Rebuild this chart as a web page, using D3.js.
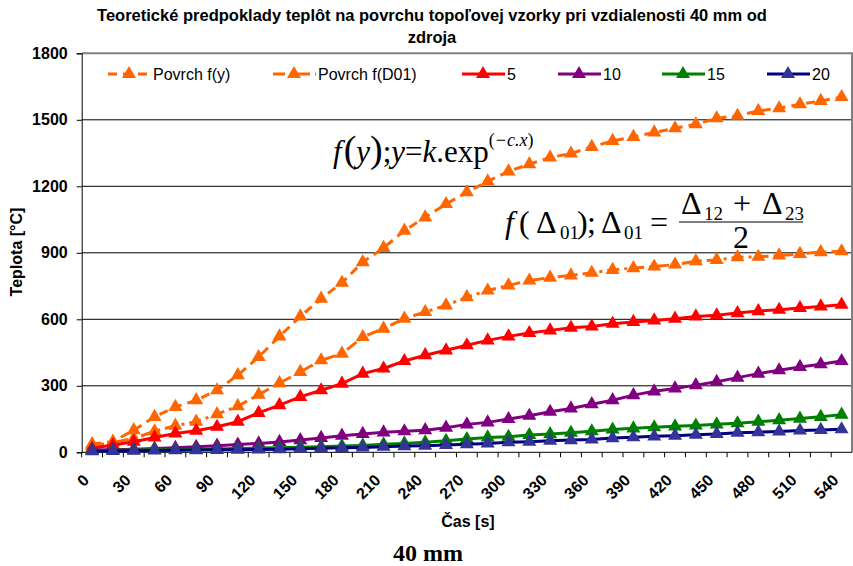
<!DOCTYPE html>
<html>
<head>
<meta charset="utf-8">
<script src="https://cdn.jsdelivr.net/npm/d3@7"></script>
<style>
  body { margin: 0; background: #fff; }
  text { font-family: "Liberation Sans", Arial, sans-serif; }
  .math { font-family: "Liberation Serif", "Times New Roman", serif; }
</style>
</head>
<body>
<svg id="chart"></svg>
<script>
// time in seconds, one category every 15 s
const times = d3.range(0, 541, 15);
const tickLabels = d3.range(0, 541, 30);
const yTicks = [0, 300, 600, 900, 1200, 1500, 1800];

const povrchFy = [37, 48, 100, 160, 205, 235, 280, 348, 430, 523, 613, 693, 765, 858, 922, 1000, 1060, 1120, 1173,
  1222, 1267, 1300, 1330, 1348, 1378, 1405, 1423, 1443, 1462, 1480, 1507, 1518, 1540, 1552, 1570, 1585, 1603];
const povrchFD01 = [30, 45, 62, 95, 120, 138, 172, 208, 260, 312, 363, 415, 445, 520, 558, 603, 633, 663, 700,
  730, 753, 775, 788, 798, 810, 823, 831, 838, 847, 862, 868, 880, 882, 888, 895, 903, 907];
const s5 = [18, 33, 48, 67, 85, 97, 115, 138, 178, 213, 250, 280, 310, 355, 378, 412, 438, 460, 483,
  505, 523, 538, 550, 562, 568, 580, 588, 595, 603, 613, 618, 628, 637, 643, 651, 658, 666];
const s10 = [10, 12, 14, 17, 20, 25, 30, 35, 40, 47, 55, 65, 75, 83, 90, 95, 100, 111, 126,
  135, 150, 165, 183, 198, 217, 235, 258, 275, 288, 303, 318, 337, 355, 370, 385, 397, 412];
const s15 = [8, 9, 10, 11, 12, 13, 15, 17, 19, 21, 23, 25, 28, 31, 36, 40, 45, 52, 60,
  67, 70, 78, 82, 88, 95, 103, 108, 113, 117, 121, 126, 131, 138, 145, 152, 160, 170];
const s20 = [5, 6, 7, 8, 9, 10, 11, 12, 13, 14, 16, 18, 20, 22, 25, 28, 30, 33, 36,
  40, 45, 48, 52, 55, 58, 64, 68, 72, 75, 79, 83, 88, 91, 94, 98, 101, 104];

const series = [
  { name: "Povrch f(y)", values: povrchFy, color: "#ff6600", marker: "#ff6600", dash: "9,6", lx: 108 },
  { name: "Povrch f(D01)", values: povrchFD01, color: "#ff6600", marker: "#ff6600", dash: "12,5,3,5", lx: 273 },
  { name: "5", values: s5, color: "#ff0000", marker: "#ff0000", dash: null, lx: 462 },
  { name: "10", values: s10, color: "#800080", marker: "#800080", dash: null, lx: 558 },
  { name: "15", values: s15, color: "#008000", marker: "#008000", dash: null, lx: 662 },
  { name: "20", values: s20, color: "#000080", marker: "#333399", dash: null, lx: 767 }
];

const width = 853, height = 566;
const plotLeft = 81.7, plotRight = 852, plotTop = 53.3, plotBottom = 452.3;

const svg = d3.select("#chart").attr("width", width).attr("height", height);

const x = d3.scaleBand().domain(times).range([plotLeft, plotRight]).padding(0);
const y = d3.scaleLinear().domain([0, 1800]).range([plotBottom, plotTop]);
const cx = (t) => x(t) + x.bandwidth() / 2;

// gridlines
svg.append("g")
  .selectAll("line")
  .data(yTicks.filter((v) => v > 0 && v < 1800))
  .enter()
  .append("line")
  .attr("x1", plotLeft).attr("x2", plotRight)
  .attr("y1", (d) => y(d)).attr("y2", (d) => y(d))
  .attr("stroke", "#000").attr("stroke-width", 1);

// plot area border (top, right)
svg.append("path")
  .attr("d", `M${plotLeft},${y(1800)}H${plotRight}V${plotBottom}`)
  .attr("fill", "none").attr("stroke", "#808080").attr("stroke-width", 2);

// y axis
const yAxis = svg.append("g")
  .attr("transform", `translate(${plotLeft},0)`)
  .call(d3.axisLeft(y).tickValues(yTicks).tickFormat(d3.format("d")).tickSize(5).tickPadding(9));
yAxis.select(".domain").attr("stroke", "#000");
yAxis.selectAll("text").attr("font-size", 16).attr("font-weight", "bold")
  .attr("font-family", "Liberation Sans, Arial, sans-serif").attr("fill", "#000");

// x axis: tick marks between categories, labels every 30 s
svg.append("line")
  .attr("x1", plotLeft).attr("x2", plotRight).attr("y1", plotBottom).attr("y2", plotBottom)
  .attr("stroke", "#000");
svg.append("g")
  .selectAll("line")
  .data(times)
  .enter()
  .append("line")
  .attr("x1", (d) => x(d)).attr("x2", (d) => x(d))
  .attr("y1", plotBottom).attr("y2", plotBottom + 5)
  .attr("stroke", "#000");

svg.append("g")
  .selectAll("text")
  .data(tickLabels)
  .enter()
  .append("text")
  .attr("transform", (d) => `translate(${cx(d) - 6},${plotBottom + 25}) rotate(-45)`)
  .attr("text-anchor", "end")
  .attr("dy", "0.35em")
  .attr("font-size", 16)
  .attr("font-weight", "bold")
  .text((d) => d);

// lines and markers
const line = d3.line()
  .x((d, i) => cx(times[i]))
  .y((d) => y(d));
const tri = d3.symbol().type(d3.symbolTriangle).size(85);

series.forEach((s) => {
  svg.append("path")
    .datum(s.values)
    .attr("fill", "none")
    .attr("stroke", s.color)
    .attr("stroke-width", 3)
    .attr("stroke-dasharray", s.dash)
    .attr("d", line);
  svg.append("g")
    .selectAll("path")
    .data(s.values)
    .enter()
    .append("path")
    .attr("d", tri)
    .attr("transform", (d, i) => `translate(${cx(times[i])},${y(d)})`)
    .attr("fill", s.marker);
});

// legend
const legend = svg.append("g").attr("transform", "translate(0,74)");
series.forEach((s) => {
  legend.append("line")
    .attr("x1", s.lx).attr("x2", s.lx + 43)
    .attr("stroke", s.color).attr("stroke-width", 3)
    .attr("stroke-dasharray", s.dash);
  legend.append("path")
    .attr("d", tri)
    .attr("transform", `translate(${s.lx + 21},0)`)
    .attr("fill", s.marker);
  legend.append("text")
    .attr("x", s.lx + 45).attr("y", 0).attr("dy", "0.35em")
    .attr("font-size", 16)
    .text(s.name);
});

// title
svg.append("text")
  .attr("x", 432).attr("y", 21)
  .attr("text-anchor", "middle")
  .attr("font-size", 16.5).attr("font-weight", "bold")
  .text("Teoretické predpoklady teplôt na povrchu topoľovej vzorky pri vzdialenosti 40 mm od");
svg.append("text")
  .attr("x", 432).attr("y", 43)
  .attr("text-anchor", "middle")
  .attr("font-size", 16.5).attr("font-weight", "bold")
  .text("zdroja");

// axis titles
svg.append("text")
  .attr("transform", "translate(22,252) rotate(-90)")
  .attr("text-anchor", "middle")
  .attr("font-size", 16).attr("font-weight", "bold")
  .text("Teplota [°C]");
svg.append("text")
  .attr("x", 468).attr("y", 527)
  .attr("text-anchor", "middle")
  .attr("font-size", 16).attr("font-weight", "bold")
  .text("Čas [s]");
svg.append("text")
  .attr("class", "math")
  .attr("x", 428).attr("y", 561)
  .attr("text-anchor", "middle")
  .attr("font-size", 24).attr("font-weight", "bold")
  .text("40 mm");

// formula 1
const f1 = svg.append("text").attr("class", "math").attr("x", 333).attr("y", 162).attr("font-size", 31);
f1.append("tspan").attr("font-style", "italic").text("f");
f1.append("tspan").attr("font-size", 38).attr("dx", 2).text("(");
f1.append("tspan").attr("font-style", "italic").text("y");
f1.append("tspan").attr("font-size", 38).text(")");
f1.append("tspan").text(";");
f1.append("tspan").attr("font-style", "italic").text("y");
f1.append("tspan").text("=");
f1.append("tspan").attr("font-style", "italic").text("k");
f1.append("tspan").text(".exp");
f1.append("tspan").attr("font-size", 18).attr("dy", -16).text("(");
f1.append("tspan").attr("font-size", 18).attr("font-style", "italic").text("−c.x");
f1.append("tspan").attr("font-size", 18).text(")");

// formula 2
const f2 = svg.append("text").attr("class", "math").attr("y", 233).attr("font-size", 32);
f2.append("tspan").attr("x", 505).attr("font-style", "italic").text("f");
f2.append("tspan").attr("x", 519).text("(");
f2.append("tspan").attr("x", 536).text("Δ");
f2.append("tspan").attr("x", 560).attr("dy", 6).attr("font-size", 19).text("01");
f2.append("tspan").attr("x", 577).attr("dy", -6).text(")");
f2.append("tspan").attr("x", 587).text(";");
f2.append("tspan").attr("x", 601).text("Δ");
f2.append("tspan").attr("x", 624).attr("dy", 6).attr("font-size", 19).text("01");
f2.append("tspan").attr("x", 650).attr("dy", -6).text("=");
const num = svg.append("text").attr("class", "math").attr("y", 214).attr("font-size", 32);
num.append("tspan").attr("x", 681).text("Δ");
num.append("tspan").attr("x", 704).attr("dy", 6).attr("font-size", 19).text("12");
num.append("tspan").attr("x", 733).attr("dy", -6).text("+");
num.append("tspan").attr("x", 762).text("Δ");
num.append("tspan").attr("x", 785).attr("dy", 6).attr("font-size", 19).text("23");
svg.append("line")
  .attr("x1", 679).attr("x2", 803).attr("y1", 222).attr("y2", 222)
  .attr("stroke", "#000").attr("stroke-width", 1.2);
svg.append("text").attr("class", "math").attr("x", 741).attr("y", 248)
  .attr("text-anchor", "middle").attr("font-size", 32).text("2");
</script>
</body>
</html>
